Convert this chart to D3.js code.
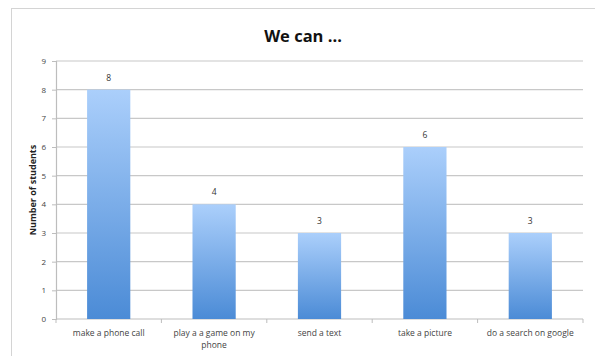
<!DOCTYPE html>
<html><head><meta charset="utf-8">
<script src="https://cdn.jsdelivr.net/npm/d3@7"></script>
<style>body{margin:0;background:#fff;}svg{display:block;}</style>
</head><body>
<script>
const categories = [["make a phone call"], ["play a a game on my", "phone"], ["send a text"], ["take a picture"], ["do a search on google"]];
const values = [8, 4, 3, 6, 3];
const yTicks = [0,1,2,3,4,5,6,7,8,9];
const title = "We can ...";
const yLabel = "Number of students";

const W = 595, H = 356;
const m = {left: 56, right: 12, top: 61, bottom: 37};
const svg = d3.select("body").append("svg").attr("width", W).attr("height", H);

const defs = svg.append("defs");
const g = defs.append("linearGradient").attr("id","bg").attr("x1",0).attr("y1",0).attr("x2",0).attr("y2",1);
g.append("stop").attr("offset","0%").attr("stop-color","#abcffb");
g.append("stop").attr("offset","100%").attr("stop-color","#4b8bd6");

svg.append("rect").attr("x",11.5).attr("y",8.5).attr("width",590).attr("height",360)
  .attr("fill","#fff").attr("stroke","#d4d4d4").attr("stroke-width",1);

const x = d3.scaleBand().domain(d3.range(categories.length)).range([m.left, W - m.right]).paddingInner(0.59).paddingOuter(0.295);
const xb = d3.scaleBand().domain(d3.range(categories.length)).range([m.left, W - m.right]);
const y = d3.scaleLinear().domain([0, 9]).range([H - m.bottom, m.top]);

// gridlines
svg.append("g").selectAll("line").data(yTicks.filter(d => d > 0)).join("line")
  .attr("x1", m.left).attr("x2", W - m.right)
  .attr("y1", d => y(d)).attr("y2", d => y(d))
  .attr("stroke","#c8c8c8").attr("stroke-width",1.2);

// y axis
const ya = svg.append("g").attr("transform",`translate(${m.left},0)`)
  .call(d3.axisLeft(y).tickValues(yTicks).tickSize(4).tickPadding(6));
ya.select(".domain").attr("stroke","#bdbdbd").attr("stroke-width",1.2);
ya.selectAll(".tick line").attr("stroke","#bdbdbd");
ya.selectAll("text").attr("font-family","Open Sans, sans-serif").attr("font-size",8).attr("fill","#444");

// x axis
const xa = svg.append("g").attr("transform",`translate(0,${H - m.bottom})`);
xa.append("line").attr("x1", m.left).attr("x2", W - m.right).attr("stroke","#bdbdbd").attr("stroke-width",1.2);
xa.selectAll("line.t").data(d3.range(categories.length + 1)).join("line").attr("class","t")
  .attr("x1", i => i < categories.length ? xb(i) : xb(i-1) + xb.bandwidth())
  .attr("x2", i => i < categories.length ? xb(i) : xb(i-1) + xb.bandwidth())
  .attr("y1",0).attr("y2",4).attr("stroke","#bdbdbd");

// bars
svg.append("g").selectAll("rect").data(values).join("rect")
  .attr("x",(d,i)=>x(i)).attr("width",x.bandwidth())
  .attr("y",d=>y(d)).attr("height",d=>y(0)-y(d))
  .attr("fill","url(#bg)");

// value labels
svg.append("g").selectAll("text").data(values).join("text")
  .attr("x",(d,i)=>x(i)+x.bandwidth()/2).attr("y",d=>y(d)-9)
  .attr("text-anchor","middle").attr("font-family","Open Sans, sans-serif").attr("font-size",8.5).attr("fill","#333")
  .text(d=>d);

// category labels
const cl = svg.append("g").selectAll("text").data(categories).join("text")
  .attr("x",(d,i)=>xb(i)+xb.bandwidth()/2).attr("y", H - m.bottom + 17)
  .attr("text-anchor","middle").attr("font-family","Open Sans, sans-serif").attr("font-size",8.5).attr("fill","#444");
cl.each(function(lines){
  d3.select(this).selectAll("tspan").data(lines).join("tspan")
    .attr("x", d3.select(this).attr("x")).attr("dy",(d,i)=> i ? 12 : 0).text(d=>d);
});

// title
svg.append("text").attr("x",303).attr("y",42).attr("text-anchor","middle")
  .attr("font-family","Open Sans, sans-serif").attr("font-weight","bold").attr("font-size",16.5).attr("fill","#111")
  .text(title);

// y label
svg.append("text").attr("transform",`translate(36,${(y(0)+y(9))/2}) rotate(-90)`).attr("text-anchor","middle")
  .attr("font-family","Open Sans, sans-serif").attr("font-weight","bold").attr("font-size",9).attr("fill","#222")
  .text(yLabel);
</script>
</body></html>
